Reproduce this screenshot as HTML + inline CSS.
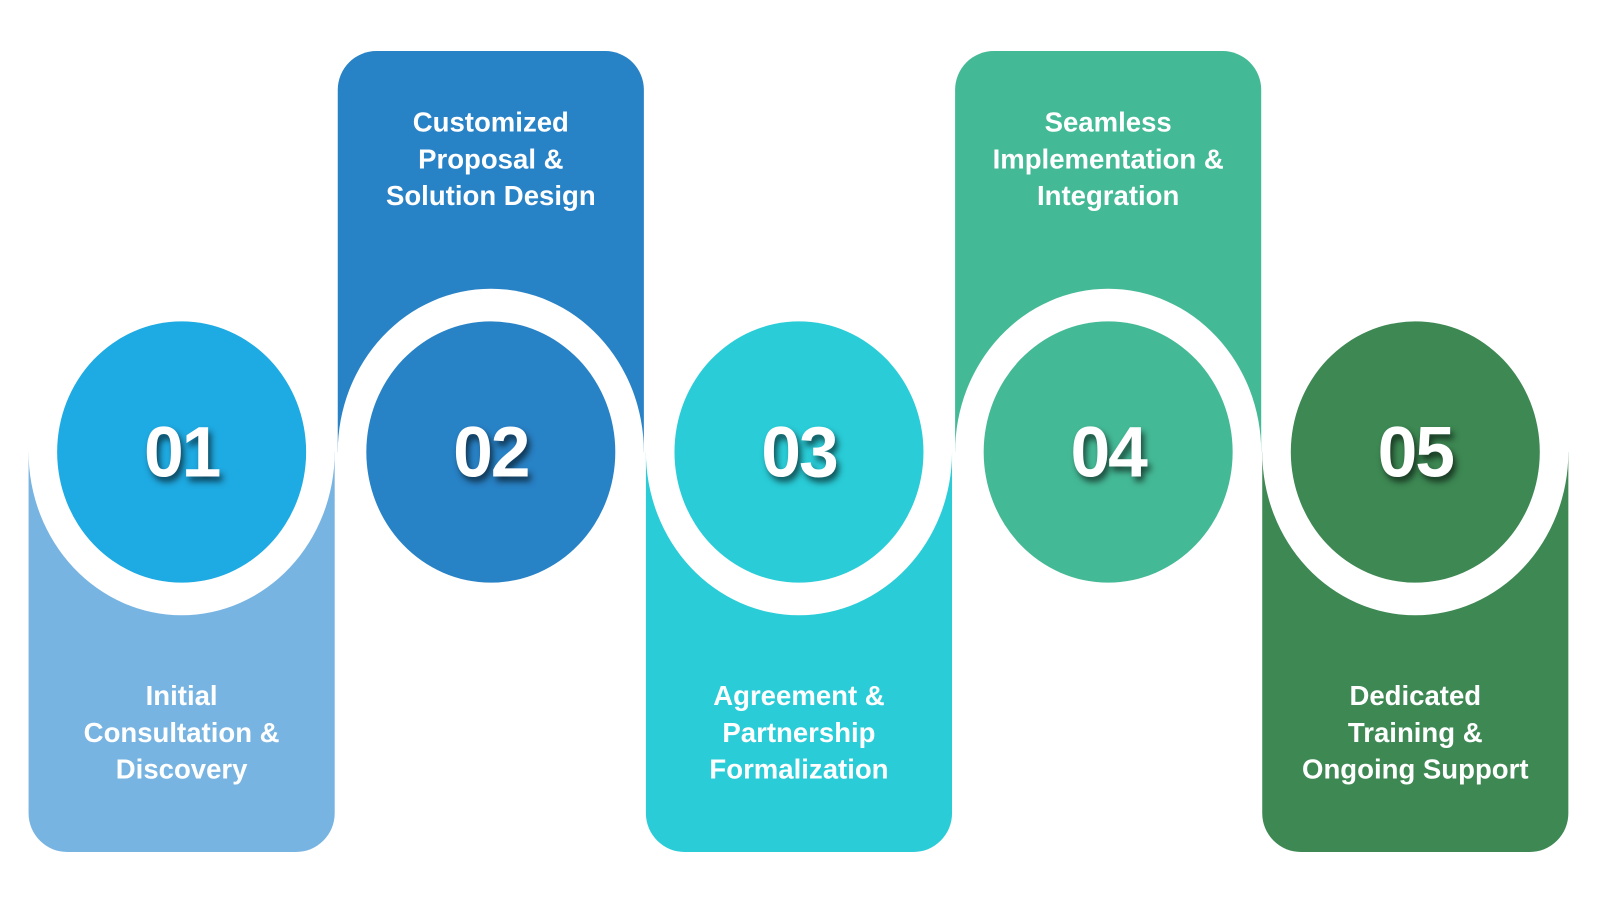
<!DOCTYPE html>
<html><head><style>
body{margin:0;width:1600px;height:898px;background:#fff;position:relative;overflow:hidden;font-family:"Liberation Sans",sans-serif}
#w{position:absolute;left:0;top:0;width:1568px;height:880px;transform:scale(1.0204);transform-origin:0 0}
.p{position:absolute;width:300px}
.e{position:absolute;border-radius:50%}
.t{position:absolute;width:300px;text-align:center;color:#fff;font-weight:bold;font-size:27px;line-height:36px}
.n{position:absolute;width:244px;text-align:center;color:#fff;font-weight:bold;font-size:70px;line-height:256px;letter-spacing:-2px;text-shadow:3px 5px 6px rgba(0,0,0,.6)}
</style></head><body><div id="w">
<div class="p" style="left:28px;top:443px;height:392px;background:#78b4e2;border-radius:0 0 38px 38px"></div>
<div class="p" style="left:331px;top:50px;height:393px;background:#2882c6;border-radius:38px 38px 0 0"></div>
<div class="p" style="left:633px;top:443px;height:392px;background:#29ccd7;border-radius:0 0 38px 38px"></div>
<div class="p" style="left:936px;top:50px;height:393px;background:#44b995;border-radius:38px 38px 0 0"></div>
<div class="p" style="left:1237px;top:443px;height:392px;background:#3d8853;border-radius:0 0 38px 38px"></div>

<div class="e" style="left:28px;top:283px;width:300px;height:320px;background:#fff"></div>
<div class="e" style="left:331px;top:283px;width:300px;height:320px;background:#fff"></div>
<div class="e" style="left:633px;top:283px;width:300px;height:320px;background:#fff"></div>
<div class="e" style="left:936px;top:283px;width:300px;height:320px;background:#fff"></div>
<div class="e" style="left:1237px;top:283px;width:300px;height:320px;background:#fff"></div>

<div class="e" style="left:56px;top:315px;width:244px;height:256px;background:#1eaae2"></div>
<div class="e" style="left:359px;top:315px;width:244px;height:256px;background:#2882c6"></div>
<div class="e" style="left:661px;top:315px;width:244px;height:256px;background:#29ccd7"></div>
<div class="e" style="left:964px;top:315px;width:244px;height:256px;background:#44b995"></div>
<div class="e" style="left:1265px;top:315px;width:244px;height:256px;background:#3d8853"></div>

<div class="n" style="left:56px;top:315px">01</div>
<div class="n" style="left:359px;top:315px">02</div>
<div class="n" style="left:661px;top:315px">03</div>
<div class="n" style="left:964px;top:315px">04</div>
<div class="n" style="left:1265px;top:315px">05</div>

<div class="t" style="left:28px;top:664px">Initial<br>Consultation &amp;<br>Discovery</div>
<div class="t" style="left:331px;top:102px">Customized<br>Proposal &amp;<br>Solution Design</div>
<div class="t" style="left:633px;top:664px">Agreement &amp;<br>Partnership<br>Formalization</div>
<div class="t" style="left:936px;top:102px">Seamless<br>Implementation &amp;<br>Integration</div>
<div class="t" style="left:1237px;top:664px">Dedicated<br>Training &amp;<br>Ongoing Support</div>
</div></body></html>
